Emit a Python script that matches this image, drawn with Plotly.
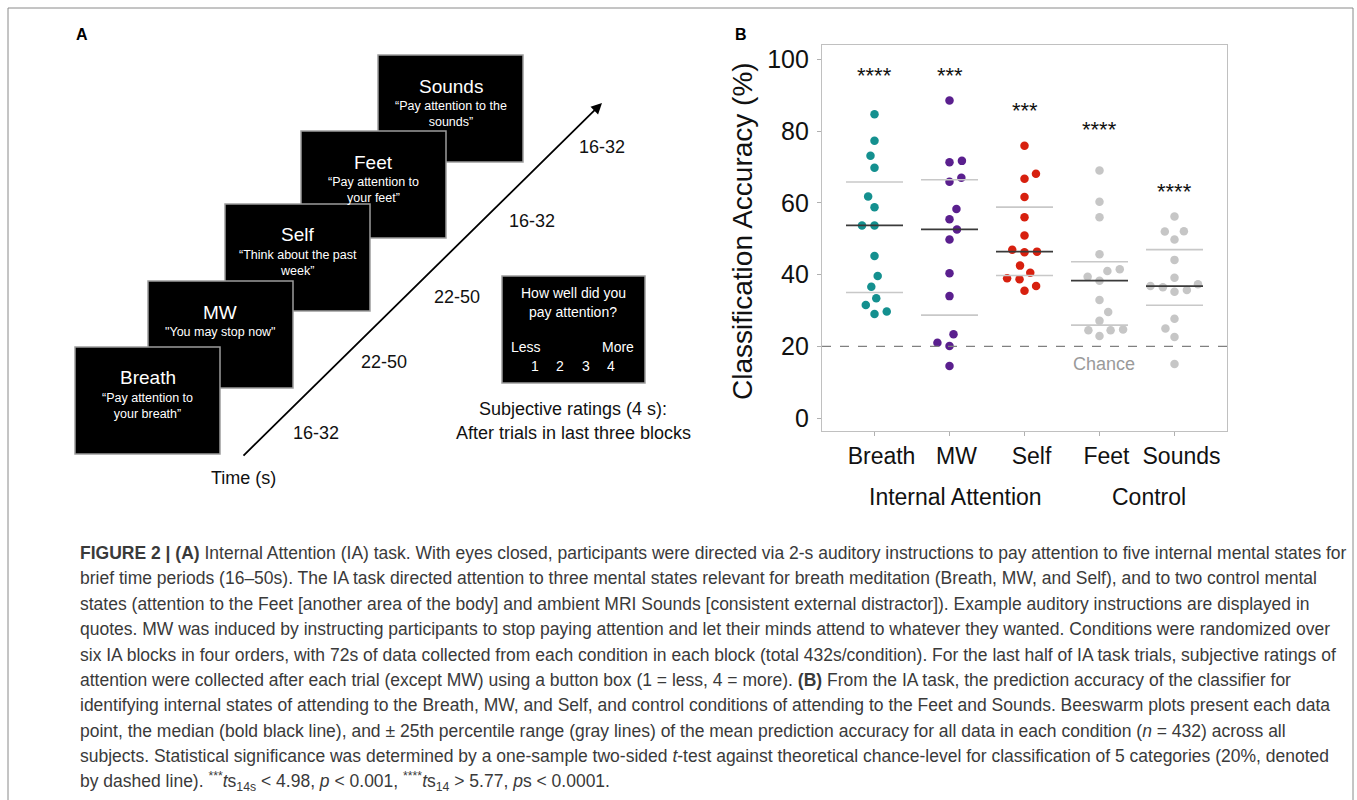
import numpy as np
import plotly.graph_objects as go

# ---------------- data ----------------
categories = ["Breath", "MW", "Self", "Feet", "Sounds"]
breath = [84.7, 77.3, 73.1, 69.8, 61.8, 58.8, 53.7, 53.7, 45.2, 39.6, 36.6, 33.4, 31.5, 29.7, 29.0]
mw = [88.5, 71.7, 71.3, 67.0, 65.9, 58.3, 55.4, 52.6, 49.8, 40.4, 34.0, 23.4, 21.0, 20.1, 14.5]
self_ = [75.9, 68.1, 66.7, 61.6, 56.0, 50.9, 46.9, 46.4, 46.2, 42.5, 40.5, 39.0, 38.7, 36.8, 35.5]
feet = [69.0, 60.3, 56.0, 45.7, 41.5, 41.0, 39.4, 38.3, 32.9, 29.6, 27.1, 24.7, 24.5, 24.5, 22.9]
sounds = [56.2, 52.1, 52.0, 49.8, 44.1, 39.1, 37.3, 36.8, 36.5, 35.7, 35.2, 27.7, 25.0, 22.6, 15.1]
significance = ["****", "***", "***", "****", "****"]
significance_height = [96.4, 96.4, 86.7, 81.3, 64.1]
chance_level = 20
y_ticks = [0, 20, 40, 60, 80, 100]
group_labels = ["Internal Attention", "Control"]

series = [breath, mw, self_, feet, sounds]
colors = ["#14908f", "#5a1f8e", "#d7200f", "#c6c6c6", "#c6c6c6"]

FONT = "Arial, 'Liberation Sans', Helvetica, sans-serif"
W, H = 1357, 800


def px(x):
    return x / W


def py(y):
    return 1 - y / H


def ann(text, x, y, size, color="#111", xanchor="center", yanchor="middle", **kw):
    d = dict(x=px(x), y=py(y), xref="paper", yref="paper", text=text, showarrow=False,
             xanchor=xanchor, yanchor=yanchor, font=dict(family=FONT, size=size, color=color))
    d.update(kw)
    return d


# ---------------- panel B geometry ----------------
XL, XR, YT, YB = 822, 1227, 45, 431
x_range = [0.3, 5.7]
y_range = [-3.6, 104.0]
x_px_per_unit = (XR - XL) / (x_range[1] - x_range[0])
y_px_per_unit = (YB - YT) / (y_range[1] - y_range[0])


def swarm_offsets(values, d=12.5):
    """Simple beeswarm: place points (ascending) at the offset nearest the
    centre that keeps them at least d pixels from already placed points."""
    vals = np.asarray(values, dtype=float)
    order = np.argsort(vals, kind="stable")
    placed = []
    offs = np.zeros(len(vals))
    for k, i in enumerate(order):
        y = vals[i] * y_px_per_unit
        intervals = []
        for (xj, yj) in placed:
            dy = abs(y - yj)
            if dy < d:
                w = np.sqrt(d * d - dy * dy)
                intervals.append((xj - w, xj + w))
        cands = [0.0] + [a for a, b in intervals] + [b for a, b in intervals]
        ok = [c for c in cands if all(not (a + 1e-9 < c < b - 1e-9) for a, b in intervals)]
        ok.sort(key=lambda c: (round(abs(c), 6), -c if k % 2 else c))
        x = ok[0]
        placed.append((x, y))
        offs[i] = x / x_px_per_unit
    return offs


fig = go.Figure()

half = 0.38
for i, (vals, col) in enumerate(zip(series, colors)):
    pos = i + 1
    offs = swarm_offsets(vals)
    fig.add_trace(go.Scatter(
        x=pos + offs, y=vals, mode="markers",
        marker=dict(size=8.5, color=col, line=dict(width=0)),
        showlegend=False, hoverinfo="skip"))
    q25, med, q75 = np.percentile(vals, [25, 50, 75])
    for q, c, w in [(q25, "#c8c8c8", 1.6), (q75, "#c8c8c8", 1.6), (med, "#3a3a3a", 1.8)]:
        fig.add_trace(go.Scatter(
            x=[pos - half, pos + half], y=[q, q], mode="lines",
            line=dict(color=c, width=w), showlegend=False, hoverinfo="skip"))

shapes = []
# chance line
shapes.append(dict(type="line", xref="x domain", yref="y", x0=0, x1=1,
                   y0=chance_level, y1=chance_level,
                   line=dict(color="#808080", width=1.2, dash="dash")))

annotations = []
for i, (s, h) in enumerate(zip(significance, significance_height)):
    annotations.append(dict(x=i + 1, y=h, xref="x", yref="y", text=s, showarrow=False,
                            xanchor="center", yanchor="middle", yshift=-3,
                            font=dict(family=FONT, size=22, color="#111")))
annotations.append(dict(x=4.06, y=chance_level - 5, xref="x", yref="y", text="Chance",
                        showarrow=False, xanchor="center", yanchor="middle",
                        font=dict(family=FONT, size=18, color="#9a9a9a")))

# axis title & group labels
annotations.append(ann("Classification Accuracy (%)", 742, 231, 28, textangle=-90))
annotations.append(ann(group_labels[0], 955, 497, 23))
annotations.append(ann(group_labels[1], 1149, 497, 23))

# panel letters
annotations.append(ann("<b>A</b>", 82, 35, 16, "#000"))
annotations.append(ann("<b>B</b>", 741, 35, 16, "#000"))

# ---------------- panel A (task diagram) ----------------
boxes = [
    ("Sounds", "\u201cPay attention to the<br>sounds\u201d", 378, 55),
    ("Feet", "\u201cPay attention to<br>your feet\u201d", 301, 131),
    ("Self", "\u201cThink about the past<br>week\u201d", 225, 204),
    ("MW", "\"You may stop now\"", 148, 281),
    ("Breath", "\u201cPay attention to<br>your breath\u201d", 75, 347),
]
BW, BH = 145, 107
for title, sub, x0, y0 in boxes:
    shapes.append(dict(type="rect", xref="paper", yref="paper",
                       x0=px(x0), x1=px(x0 + BW), y0=py(y0 + BH), y1=py(y0),
                       fillcolor="#000", line=dict(color="#9c9c9c", width=1.5), layer="below"))
    annotations.append(ann(title, x0 + BW / 2, y0 + 31, 19, "#fff"))
    annotations.append(ann(sub, x0 + BW / 2, y0 + 42, 12.5, "#fff", yanchor="top"))

# rating box
shapes.append(dict(type="rect", xref="paper", yref="paper",
                   x0=px(502), x1=px(645), y0=py(383), y1=py(276),
                   fillcolor="#000", line=dict(color="#9c9c9c", width=1.5), layer="below"))
for txt, x, y in [("How well did you", 573, 293), ("pay attention?", 573, 312),
                  ("Less", 526, 347), ("More", 618, 347),
                  ("1", 535, 366), ("2", 560, 366), ("3", 586, 366), ("4", 611, 366)]:
    annotations.append(ann(txt, x, y, 14, "#fff"))

for txt, x, y in [("Subjective ratings (4 s):", 573, 409),
                  ("After trials in last three blocks", 573, 433),
                  ("Time (s)", 243, 478)]:
    annotations.append(ann(txt, x, y, 18))

for txt, x, y in [("16-32", 316, 433), ("22-50", 384, 362), ("22-50", 457, 297),
                  ("16-32", 532, 221), ("16-32", 602, 147)]:
    annotations.append(ann(txt, x, y, 18))

# time arrow
annotations.append(dict(x=px(602), y=py(103), xref="paper", yref="paper",
                        ax=242 - 602, ay=457 - 103, axref="pixel", ayref="pixel",
                        text="", showarrow=True, arrowhead=2, arrowsize=1.2,
                        arrowwidth=1.8, arrowcolor="#000"))

# figure border
shapes.append(dict(type="rect", xref="paper", yref="paper",
                   x0=px(8), x1=px(1353), y0=py(806), y1=py(8),
                   line=dict(color="#8a8a8a", width=1), fillcolor="rgba(0,0,0,0)"))

# ---------------- caption ----------------
caption = [
    "<b>FIGURE 2 | (A)</b> Internal Attention (IA) task. With eyes closed, participants were directed via 2-s auditory instructions to pay attention to five internal mental states for",
    "brief time periods (16\u201350s). The IA task directed attention to three mental states relevant for breath meditation (Breath, MW, and Self), and to two control mental",
    "states (attention to the Feet [another area of the body] and ambient MRI Sounds [consistent external distractor]). Example auditory instructions are displayed in",
    "quotes. MW was induced by instructing participants to stop paying attention and let their minds attend to whatever they wanted. Conditions were randomized over",
    "six IA blocks in four orders, with 72s of data collected from each condition in each block (total 432s/condition). For the last half of IA task trials, subjective ratings of",
    "attention were collected after each trial (except MW) using a button box (1 = less, 4 = more). <b>(B)</b> From the IA task, the prediction accuracy of the classifier for",
    "identifying internal states of attending to the Breath, MW, and Self, and control conditions of attending to the Feet and Sounds. Beeswarm plots present each data",
    "point, the median (bold black line), and \u00b1 25th percentile range (gray lines) of the mean prediction accuracy for all data in each condition (<i>n</i> = 432) across all",
    "subjects. Statistical significance was determined by a one-sample two-sided <i>t</i>-test against theoretical chance-level for classification of 5 categories (20%, denoted",
    "by dashed line). <sup>***</sup><i>t</i>s<sub>14s</sub> &lt; 4.98, <i>p</i> &lt; 0.001, <sup>****</sup><i>t</i>s<sub>14</sub> &gt; 5.77, <i>p</i>s &lt; 0.0001.",
]
for k, line in enumerate(caption):
    annotations.append(ann(line, 78, 553 + k * 25.4, 17.5, "#3a3a3a", xanchor="left"))

fig.update_layout(
    width=W, height=H, margin=dict(l=0, r=0, t=0, b=0, autoexpand=False),
    paper_bgcolor="#fff", plot_bgcolor="#fff",
    xaxis=dict(domain=[px(XL), px(XR)], range=x_range, tickvals=[1, 2, 3, 4, 5],
               ticktext=categories, tickfont=dict(family=FONT, size=23, color="#111"),
               ticks="outside", ticklen=4, tickcolor="#b0b0b0", showgrid=False,
               zeroline=False, showline=True, linecolor="#c0c0c0", linewidth=1.2,
               mirror=True, ticklabelstandoff=0, ticklabelshift=7, fixedrange=True),
    yaxis=dict(domain=[py(YB), py(YT)], range=y_range, tickvals=y_ticks,
               tickfont=dict(family=FONT, size=25, color="#111"),
               ticks="outside", ticklen=4, tickcolor="#b0b0b0", showgrid=False,
               zeroline=False, showline=True, linecolor="#c0c0c0", linewidth=1.2,
               mirror=True, ticklabelstandoff=3, fixedrange=True),
    showlegend=False,
)
fig.layout.shapes = shapes
fig.layout.annotations = annotations

fig.write_html("out.html", config={"displayModeBar": False},
               post_script="document.body.style.margin='0';document.body.style.overflow='hidden';")
